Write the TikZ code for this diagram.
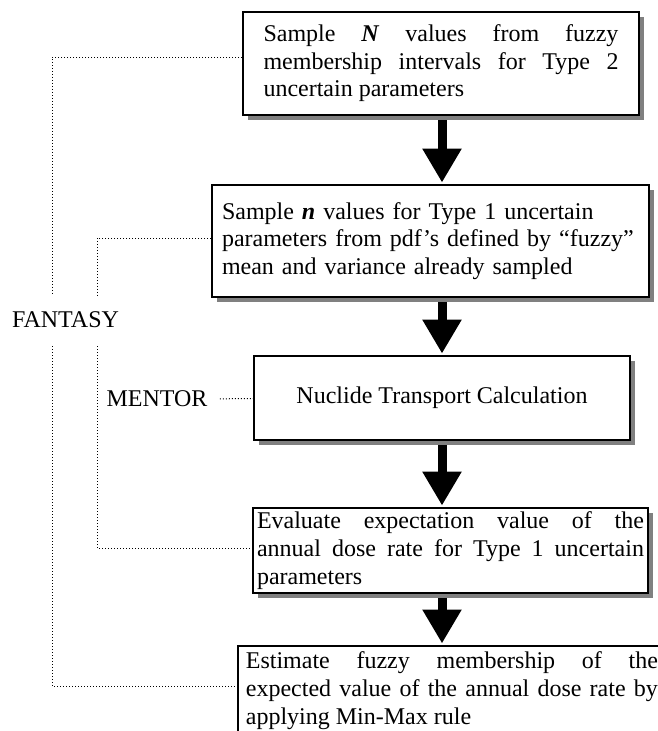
\documentclass[tikz,border=0pt]{standalone}
\usepackage{fontspec}
\setmainfont{Liberation Serif}
\usetikzlibrary{arrows.meta,shadows,backgrounds}
\setlength{\parindent}{0pt}
\hbadness=10000

\begin{document}
\begin{tikzpicture}[x=1pt,y=-1pt,
    font=\fontsize{24}{27.6}\selectfont,
    stage/.style={draw,line width=1.8pt,fill=white,
      drop shadow={shadow xshift=5pt,shadow yshift=-5pt,fill=black!50,opacity=1}},
    tie/.style={dotted,line width=1pt},
    flow/.style={line width=9pt,-{Triangle[length=34pt,width=37pt]},shorten >=1.5pt}]
  \clip (0,0) rectangle (658,731);
  % steps of the calculation
  \node[stage,text width=355pt,inner xsep=20.5pt,align=justify,minimum height=103pt] (type2) at (441,63.5)
    {Sample \textbf{\textit{N}} values from fuzzy\linebreak
     membership intervals for Type 2\linebreak uncertain parameters};
  \node[stage,text width=417pt,inner xsep=10pt,align=left,minimum height=112pt] (type1) at (430.5,241)
    {Sample \textbf{\textit{n}} values for Type 1 uncertain\\
     parameters from pdf's defined by ``fuzzy''\\ mean and variance already sampled};
  \node[stage,minimum width=376pt,minimum height=84pt] (transport) at (442,398)
    {Nuclide Transport Calculation};
  \node[stage,text width=387pt,inner xsep=4pt,align=justify,minimum height=85pt] (expect) at (450.5,550.5)
    {Evaluate expectation value of the\linebreak
     annual dose rate for Type 1 uncertain\linebreak parameters};
  \node[stage,text width=412pt,inner xsep=8pt,inner ysep=6pt,align=justify,anchor=north west] (estimate) at (237,645)
    {Estimate fuzzy membership of the\linebreak
     expected value of the annual dose rate by\linebreak applying Min-Max rule};
  % codes used for each step
  \node (fantasy) at (65.5,320) {FANTASY};
  \node (mentor) at (157,399) {MENTOR};
  \coordinate (fanOutTop) at (52,295);
  \coordinate (fanOutBot) at (52,346);
  \coordinate (fanInTop) at (97,295);
  \coordinate (fanInBot) at (97,346);
  \draw[tie] ([yshift=6.5pt]type2.west) -| (fanOutTop);
  \draw[tie] (fanOutBot) |- ([yshift=-41pt]estimate.north west);
  \draw[tie] ([yshift=3pt]type1.west) -| (fanInTop);
  \draw[tie] (fanInBot) |- ([yshift=2.5pt]expect.west);
  \draw[tie,shorten <=9pt] (mentor) -- (transport);
  \begin{scope}[on background layer]
    \draw[flow] (transport |- type2.south) -- (transport |- type1.north);
    \draw[flow] (transport |- type1.south) -- (transport.north);
    \draw[flow] (transport.south) -- (transport |- expect.north);
    \draw[flow] (transport |- expect.south) -- (transport |- estimate.north);
  \end{scope}
\end{tikzpicture}
\end{document}
